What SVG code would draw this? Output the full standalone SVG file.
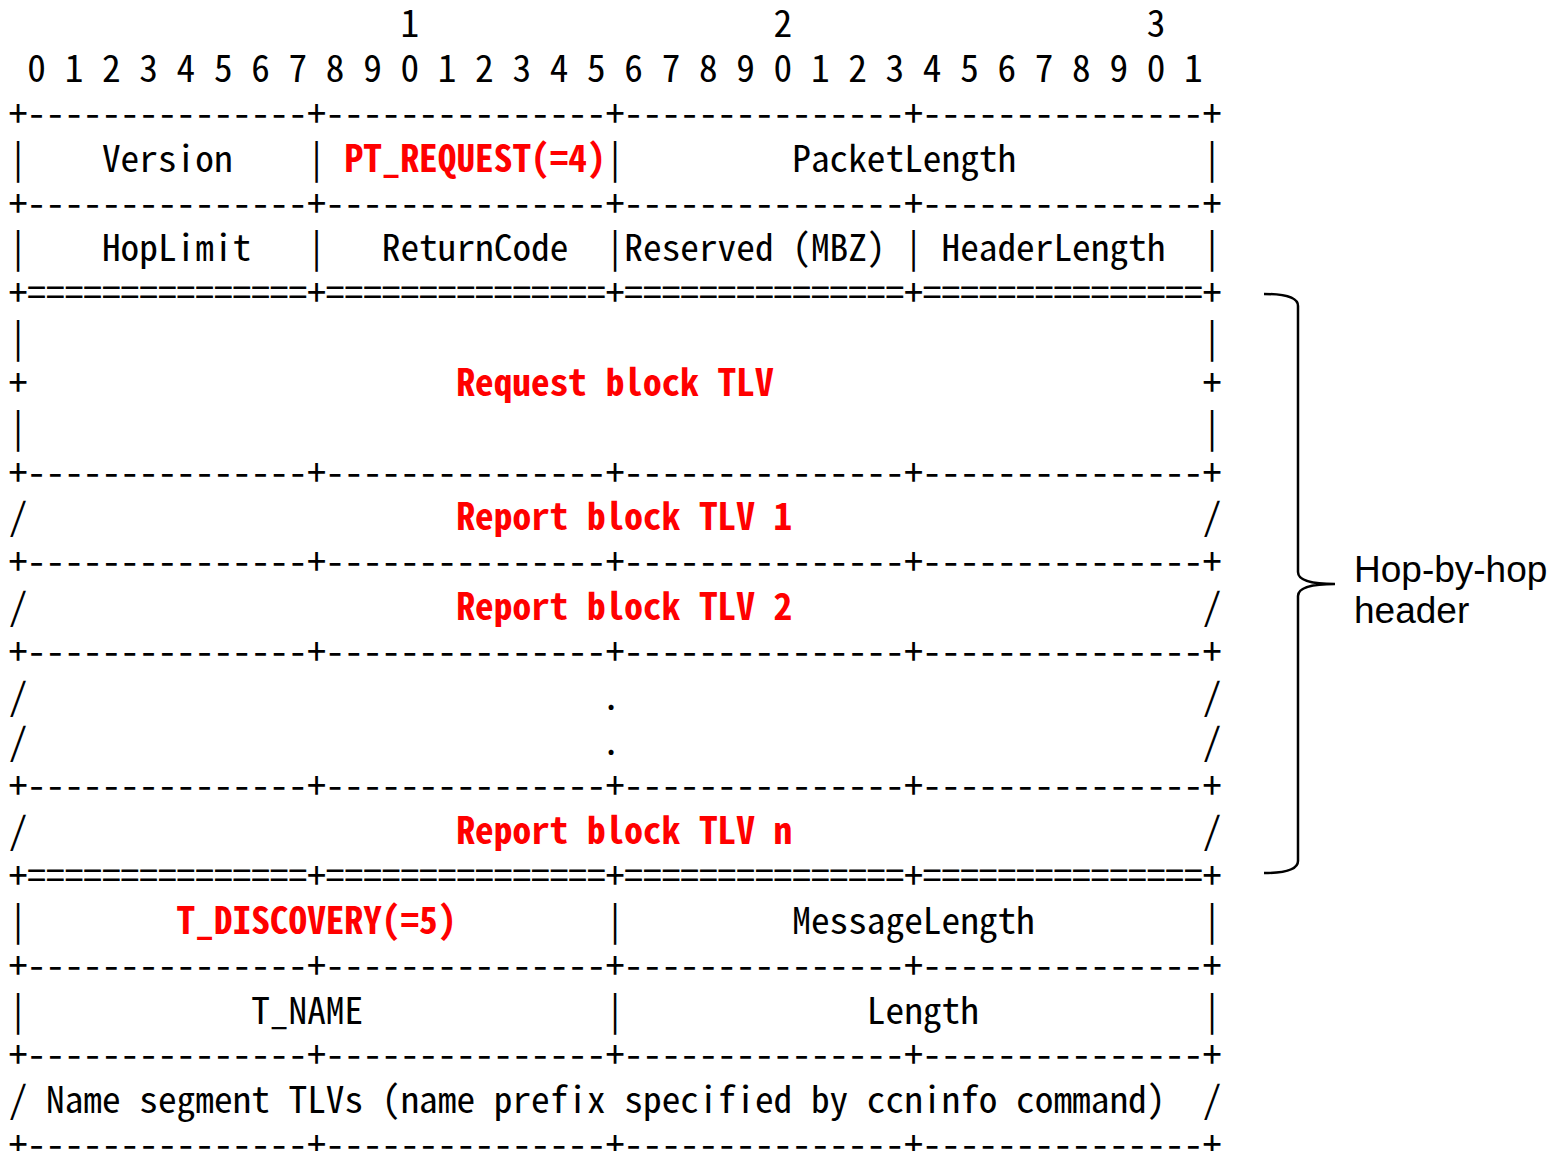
<svg xmlns="http://www.w3.org/2000/svg" width="1560" height="1151" viewBox="0 0 1560 1151">
<style>
.t{font-family:"Noto Sans CJK JP","DejaVu Sans Mono",monospace;font-size:37.32px;fill:#000;white-space:pre;font-variant-ligatures:none;font-feature-settings:"hwid" 1,"liga" 0,"clig" 0;}
.r{fill:#ff0000;font-weight:bold;}
.lbl{font-family:"Liberation Sans",Arial,sans-serif;font-size:37px;fill:#000;}
</style>
<rect width="1560" height="1151" fill="#fff"/>
<g id="ruler">
<text class="t" x="8.67" y="37.2" xml:space="preserve">                     1                   2                   3</text>
<text class="t" x="8.67" y="82" xml:space="preserve"> 0 1 2 3 4 5 6 7 8 9 0 1 2 3 4 5 6 7 8 9 0 1 2 3 4 5 6 7 8 9 0 1</text>
</g>
<g id="fixed-header">
<text class="t" x="8.67" y="126.8" xml:space="preserve">+---------------+---------------+---------------+---------------+</text>
<text class="t" x="8.67" y="171.7" xml:space="preserve">|    Version    | <tspan class="r">PT_REQUEST(=4)</tspan>|         PacketLength          |</text>
<text class="t" x="8.67" y="216.5" xml:space="preserve">+---------------+---------------+---------------+---------------+</text>
<text class="t" x="8.67" y="261.3" xml:space="preserve">|    HopLimit   |   ReturnCode  |Reserved (MBZ) | HeaderLength  |</text>
<text class="t" x="8.67" y="306.2" xml:space="preserve">+===============+===============+===============+===============+</text>
</g>
<g id="request-block">
<text class="t" x="8.67" y="351" xml:space="preserve">|                                                               |</text>
<text class="t" x="8.67" y="395.8" xml:space="preserve">+                       <tspan class="r">Request block TLV</tspan>                       +</text>
<text class="t" x="8.67" y="440.7" xml:space="preserve">|                                                               |</text>
<text class="t" x="8.67" y="485.5" xml:space="preserve">+---------------+---------------+---------------+---------------+</text>
</g>
<g id="report-blocks">
<text class="t" x="8.67" y="530.3" xml:space="preserve">/                       <tspan class="r">Report block TLV 1</tspan>                      /</text>
<text class="t" x="8.67" y="575.2" xml:space="preserve">+---------------+---------------+---------------+---------------+</text>
<text class="t" x="8.67" y="620" xml:space="preserve">/                       <tspan class="r">Report block TLV 2</tspan>                      /</text>
<text class="t" x="8.67" y="664.8" xml:space="preserve">+---------------+---------------+---------------+---------------+</text>
<text class="t" x="8.67" y="709.6" xml:space="preserve">/                               <tspan dx="-4">.</tspan><tspan dx="4">                               /</tspan></text>
<text class="t" x="8.67" y="754.5" xml:space="preserve">/                               <tspan dx="-4">.</tspan><tspan dx="4">                               /</tspan></text>
<text class="t" x="8.67" y="799.3" xml:space="preserve">+---------------+---------------+---------------+---------------+</text>
<text class="t" x="8.67" y="844.1" xml:space="preserve">/                       <tspan class="r">Report block TLV n</tspan>                      /</text>
<text class="t" x="8.67" y="889" xml:space="preserve">+===============+===============+===============+===============+</text>
</g>
<g id="discovery-message">
<text class="t" x="8.67" y="933.8" xml:space="preserve">|        <tspan class="r">T_DISCOVERY(=5)</tspan>        |         MessageLength         |</text>
<text class="t" x="8.67" y="978.6" xml:space="preserve">+---------------+---------------+---------------+---------------+</text>
<text class="t" x="8.67" y="1023.5" xml:space="preserve">|            T_NAME             |             Length            |</text>
<text class="t" x="8.67" y="1068.3" xml:space="preserve">+---------------+---------------+---------------+---------------+</text>
<text class="t" x="8.67" y="1113.1" xml:space="preserve">/ Name segment TLVs (name prefix specified by ccninfo command)  /</text>
<text class="t" x="8.67" y="1158" xml:space="preserve">+---------------+---------------+---------------+---------------+</text>
</g>
<g id="connectors">
<path id="hop-by-hop-brace" d="M1264,294 Q1298,294 1298,306 L1298,572 Q1298,584 1335,584 Q1298,584 1298,596 L1298,861 Q1298,873 1264,873" fill="none" stroke="#000" stroke-width="2.5"/>
</g>
<g id="hop-by-hop-label">
<text class="lbl" x="1354" y="582">Hop-by-hop</text>
<text class="lbl" x="1354" y="623">header</text>
</g>
</svg>
